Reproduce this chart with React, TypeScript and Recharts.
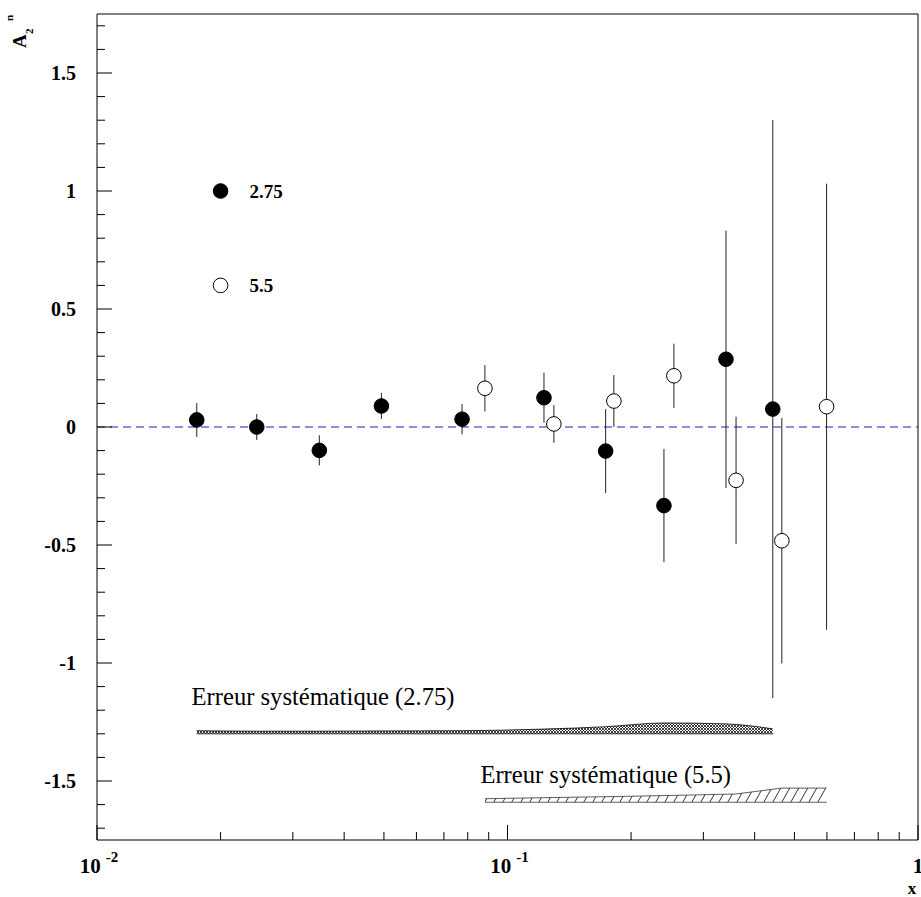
import React from "react";
import {
  ComposedChart,
  XAxis,
  YAxis,
  Scatter,
  ErrorBar,
  Area,
  ReferenceLine,
  ReferenceDot,
} from "recharts";

// closed circles, 2.75
const xClosed = [0.0175, 0.0245, 0.0348, 0.0493, 0.0775, 0.1227, 0.1734, 0.2405, 0.3406, 0.4428];
const yClosed = [0.03, 0.0, -0.099, 0.089, 0.033, 0.124, -0.102, -0.333, 0.287, 0.076];
const errClosed = [0.072, 0.055, 0.064, 0.055, 0.064, 0.106, 0.178, 0.24, 0.545, 1.225];

// open circles, 5.5
const xOpen = [0.0881, 0.1297, 0.1816, 0.2543, 0.3604, 0.4659, 0.5988];
const yOpen = [0.164, 0.013, 0.11, 0.217, -0.226, -0.482, 0.086];
const errOpen = [0.098, 0.08, 0.11, 0.136, 0.27, 0.52, 0.945];

// systematic error bands
const sysBase275 = -1.3;
const sysTop275 = [-1.287, -1.289, -1.289, -1.288, -1.287, -1.28, -1.27, -1.254, -1.258, -1.279];
const sysBase55 = -1.59;
const sysTop55 = [-1.575, -1.57, -1.566, -1.561, -1.555, -1.53, -1.53];

const yMajor = [-1.5, -1, -0.5, 0, 0.5, 1, 1.5];
const decadeLabels: Record<string, [string, string]> = {
  "-2": ["10", "-2"],
  "-1": ["10", "-1"],
  "0": ["1", ""],
};

const closedData = xClosed.map((x, i) => ({ x, y: yClosed[i], err: errClosed[i] }));
const openData = xOpen.map((x, i) => ({ x, y: yOpen[i], err: errOpen[i] }));
const band275 = xClosed.map((x, i) => ({ x, lo: sysBase275, hi: sysTop275[i] }));
const band55 = xOpen.map((x, i) => ({ x, lo: sysBase55, hi: sysTop55[i] }));

const yTicks: number[] = [];
for (let k = -17; k <= 17; k++) yTicks.push(k / 10);
const xTicks: number[] = [];
for (const d of [0.01, 0.1]) for (let m = 1; m <= 9; m++) xTicks.push(+(d * m).toPrecision(3));
xTicks.push(1);

const serif = "'Liberation Serif', 'Times New Roman', serif";

const YTick = (props: any) => {
  const { x, y, payload } = props;
  const v = payload.value;
  const major = yMajor.some((m) => Math.abs(m - v) < 1e-6);
  return (
    <g>
      <line x1={x} x2={x + (major ? 15 : 8)} y1={y} y2={y} stroke="#000" />
      {major && (
        <text
          x={x - 21}
          y={y}
          textAnchor="end"
          dominantBaseline="central"
          fontFamily={serif}
          fontWeight="bold"
          fontSize={20}
          fill="#000"
        >
          {String(v)}
        </text>
      )}
    </g>
  );
};

const XTick = (props: any) => {
  const { x, y, payload } = props;
  const lg = Math.log10(payload.value);
  const major = Math.abs(lg - Math.round(lg)) < 1e-6;
  const lbl = major ? decadeLabels[String(Math.round(lg))] : null;
  return (
    <g>
      <line x1={x} x2={x} y1={y} y2={y - (major ? 15 : 8)} stroke="#000" />
      {lbl && (
        <text
          x={x + (lbl[1] ? 2 : 0)}
          y={y + 33}
          textAnchor="middle"
          fontFamily={serif}
          fontWeight="bold"
          fontSize={21}
          fill="#000"
        >
          {lbl[0]}
          {lbl[1] && (
            <tspan dx={5} dy={-11} fontSize={15}>
              {lbl[1]}
            </tspan>
          )}
        </text>
      )}
    </g>
  );
};

const closedShape = (p: any) => <circle cx={p.cx} cy={p.cy} r={7.3} fill="#000" stroke="#000" />;
const openShape = (p: any) => <circle cx={p.cx} cy={p.cy} r={7.3} fill="#fff" stroke="#000" />;

const legendText = (text: string) => (p: any) => {
  const vb = p.viewBox;
  return (
    <text
      x={vb.x + vb.width / 2 + 29}
      y={vb.y + vb.height / 2}
      dominantBaseline="central"
      fontFamily={serif}
      fontWeight="bold"
      fontSize={19}
      fill="#000"
    >
      {text}
    </text>
  );
};

const plainText = (text: string) => (p: any) => {
  const vb = p.viewBox;
  return (
    <text x={vb.x} y={vb.y} fontFamily={serif} fontSize={24.6} fill="#000">
      {text}
    </text>
  );
};

const yLabel = (p: any) => {
  const vb = p.viewBox;
  return (
    <text
      transform={`translate(${vb.x + 26},${vb.y + 34}) rotate(-90)`}
      fontFamily={serif}
      fontWeight="bold"
      fontSize={19}
      fill="#000"
    >
      <tspan x={0} y={0}>A</tspan>
      <tspan x={14} y={7} fontSize={11}>2</tspan>
      <tspan x={27} y={-13} fontSize={11}>n</tspan>
    </text>
  );
};

const xLabel = (p: any) => {
  const vb = p.viewBox;
  return (
    <text
      x={vb.x + vb.width - 6}
      y={vb.y + 54}
      textAnchor="middle"
      fontFamily={serif}
      fontWeight="bold"
      fontSize={17}
      fill="#000"
    >
      x
    </text>
  );
};

export default function App() {
  return (
    <div style={{ position: "absolute", left: 0, top: 0, width: 921, height: 897, background: "#fff" }}>
      <ComposedChart width={921} height={897} margin={{ top: 14, right: 3, bottom: 0, left: 0 }}>
        <defs>
          <pattern id="xhatch" patternUnits="userSpaceOnUse" width={3} height={3}>
            <rect width={3} height={3} fill="#fff" />
            <path d="M0,0 L3,3 M3,0 L0,3" stroke="#000" strokeWidth={0.75} />
          </pattern>
          <pattern id="diag" patternUnits="userSpaceOnUse" width={9} height={16}>
            <rect width={9} height={16} fill="#fff" />
            <path d="M0,16 L9,0 M-1,1.8 L1,-1.8 M8,17.8 L10,14.2" stroke="#000" strokeWidth={0.8} />
          </pattern>
        </defs>
        <XAxis
          dataKey="x"
          type="number"
          scale="log"
          domain={[0.01, 1]}
          ticks={xTicks}
          interval={0}
          allowDataOverflow
          height={57}
          tickSize={0}
          tickMargin={0}
          tickLine={false}
          axisLine={{ stroke: "#000" }}
          tick={<XTick />}
          label={{ content: xLabel }}
        />
        <YAxis
          dataKey="y"
          type="number"
          domain={[-1.75, 1.75]}
          ticks={yTicks}
          interval={0}
          allowDataOverflow
          width={97}
          tickSize={0}
          tickMargin={0}
          tickLine={false}
          axisLine={{ stroke: "#000" }}
          tick={<YTick />}
          label={{ content: yLabel }}
        />
        <ReferenceLine y={1.75} stroke="#000" />
        <ReferenceLine x={1} stroke="#000" />
        <ReferenceLine y={0} stroke="#1f1fb0" strokeWidth={1.2} strokeDasharray="8 5" />

        <Area
          data={band275}
          dataKey={(d: any) => [d.lo, d.hi]}
          type="monotone"
          stroke="#000"
          strokeWidth={0.8}
          fill="url(#xhatch)"
          fillOpacity={1}
          isAnimationActive={false}
        />
        <Area
          data={band55}
          dataKey={(d: any) => [d.lo, d.hi]}
          type="linear"
          stroke="#333"
          strokeWidth={0.8}
          fill="url(#diag)"
          fillOpacity={1}
          isAnimationActive={false}
        />

        <Scatter data={closedData} dataKey="y" shape={closedShape} isAnimationActive={false}>
          <ErrorBar dataKey="err" direction="y" width={0} stroke="#222" strokeWidth={1} isAnimationActive={false} />
        </Scatter>
        <Scatter data={openData} dataKey="y" shape={openShape} isAnimationActive={false}>
          <ErrorBar dataKey="err" direction="y" width={0} stroke="#222" strokeWidth={1} isAnimationActive={false} />
        </Scatter>

        <ReferenceDot x={0.02} y={1.0} r={7.3} fill="#000" stroke="#000" label={{ content: legendText("2.75") }} />
        <ReferenceDot x={0.02} y={0.6} r={7.3} fill="#fff" stroke="#000" label={{ content: legendText("5.5") }} />
        <ReferenceDot x={0.017} y={-1.178} r={0} fill="none" stroke="none" label={{ content: plainText("Erreur systématique (2.75)") }} />
        <ReferenceDot x={0.0859} y={-1.508} r={0} fill="none" stroke="none" label={{ content: plainText("Erreur systématique (5.5)") }} />
      </ComposedChart>
    </div>
  );
}
